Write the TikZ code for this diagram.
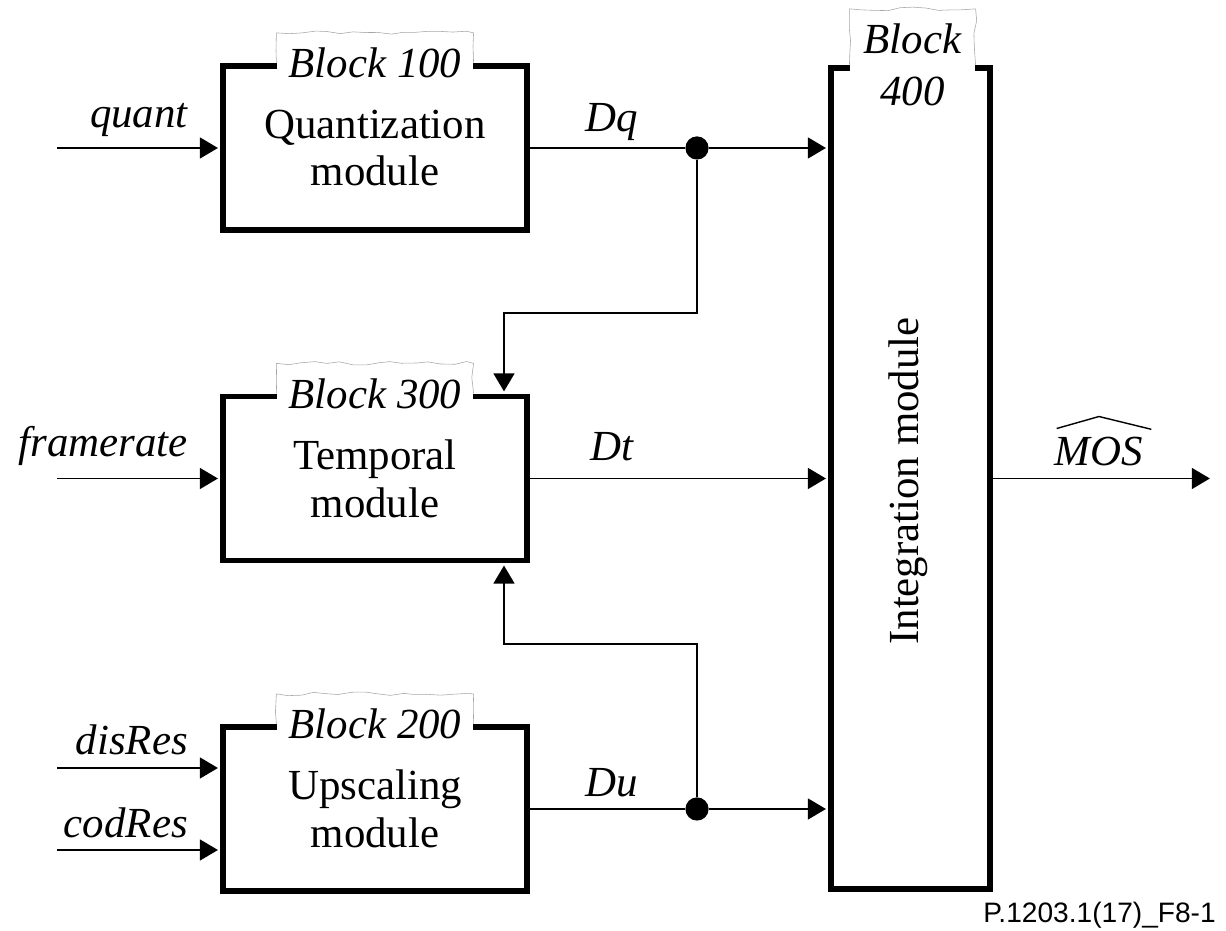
\documentclass[tikz,border=0pt]{standalone}
\usepackage{fontspec}
\setmainfont{Liberation Serif}
\newfontfamily\figsans{Liberation Sans}
\usetikzlibrary{arrows.meta,positioning,decorations.pathmorphing}

% thin grey outline round a block tag
\newcommand{\torntag}[2]{%
  \draw[torn] (#1.west |- #2.north) -- ([yshift=0.3cm]#1.north west)
    -- ([yshift=0.3cm]#1.north east) -- (#1.east |- #2.north);}

\begin{document}
\begin{tikzpicture}[
  module/.style={rectangle, draw, line width=4.2pt, minimum width=7.6cm, minimum height=4.1cm,
                 align=center, inner sep=0pt, font=\fontsize{30.5}{34}\selectfont},
  tag/.style={fill=white, inner xsep=0.3cm, inner ysep=2pt, align=center,
              font=\fontsize{30.5}{37}\selectfont\itshape},
  torn/.style={draw=black!35, line width=0.4pt, decorate,
               decoration={random steps, segment length=9pt, amplitude=1.3pt}},
  lbl/.style={font=\fontsize{30.5}{34}\selectfont\itshape, inner sep=0pt},
  sig/.style={line width=1.4pt, shorten >=1.5pt, -{Triangle[length=0.45cm, width=0.52cm]}},
  wire/.style={line width=1.4pt},
  dot/.style={circle, fill, inner sep=0pt, minimum size=0.58cm},
]
  \pgfmathsetseed{7}
  \useasboundingbox (0,0) rectangle (30.65,23.275);

  % blocks
  \node[module] (quantmod) at (9.375,19.575)  {Quantization\\module};
  \node[module] (tempmod)  at (9.375,11.3125) {Temporal\\module};
  \node[module] (upmod)    at (9.375,3.05)    {Upscaling\\module};
  \node[module, minimum width=3.975cm, minimum height=20.525cm] (integ) at (22.7625,11.3125) {};
  \node[font=\fontsize{30.5}{34}\selectfont, rotate=90] (integtxt) at (22.7,11.25) {Integration module};

  \node[tag] (tag100) at (quantmod.north) {Block 100};
  \node[tag] (tag300) at (tempmod.north)  {Block 300};
  \node[tag] (tag200) at (upmod.north)    {Block 200};
  \node[tag, inner xsep=0.35cm] (tag400) at ([xshift=0.05cm]integ.north) {Block\\400};
  \torntag{tag100}{quantmod}
  \torntag{tag300}{tempmod}
  \torntag{tag200}{upmod}
  \torntag{tag400}{integ}

  % inputs
  \coordinate (quantin) at (1.425,19.575);
  \coordinate (framein) at (1.425,11.3125);
  \coordinate (disin)   at (1.425,4.075);
  \coordinate (codin)   at (1.425,2.025);
  \draw[sig] (quantin) -- (quantmod.west);
  \draw[sig] (framein) -- (tempmod.west);
  \draw[sig] (disin) -- (disin -| upmod.west);
  \draw[sig] (codin) -- (codin -| upmod.west);
  \node[lbl, anchor=base east] (quantlbl) at (4.7,20.075) {quant};
  \node[lbl, anchor=base east] (framelbl) at (4.7,11.85)  {framerate};
  \node[lbl, anchor=base east] (dislbl)   at (4.7,4.4)    {disRes};
  \node[lbl, anchor=base east] (codlbl)   at (4.7,2.325)  {codRes};

  % outputs of the modules
  \node[dot] (dqdot) at (17.425,19.575) {};
  \node[dot] (dudot) at (17.425,3.05) {};
  \draw[wire] (quantmod.east) -- (dqdot);
  \draw[sig] (dqdot) -- (dqdot -| integ.west);
  \draw[sig] (tempmod.east) -- (tempmod.east -| integ.west);
  \draw[wire] (upmod.east) -- (dudot);
  \draw[sig] (dudot) -- (dudot -| integ.west);
  \node[lbl, anchor=base] (dqlbl) at (15.3,19.975) {Dq};
  \node[lbl, anchor=base] (dtlbl) at (15.3,11.75)  {Dt};
  \node[lbl, anchor=base] (dulbl) at (15.3,3.35)   {Du};

  % feedback into the temporal module
  \coordinate (fbtop) at (12.6,15.45);
  \coordinate (fbbot) at (12.6,7.175);
  \draw[sig] (dqdot) |- (fbtop) -- (fbtop |- tempmod.north);
  \draw[sig] (dudot) |- (fbbot) -- (fbbot |- tempmod.south);

  % final score
  \coordinate (mosout) at (30.3,11.3125);
  \draw[sig] (integ.east |- mosout) -- (mosout);
  \node[lbl, anchor=base] (moslbl) at (27.475,11.625) {MOS};
  \draw[line width=1pt] ([xshift=0.05cm,yshift=0.22cm]moslbl.north west)
    -- ([yshift=0.52cm]moslbl.north) -- ([xshift=0.2cm,yshift=0.2cm]moslbl.north east);

  \node[font=\figsans\fontsize{20}{24}\selectfont, anchor=base east, inner sep=0pt] (figno)
    at (30.4,0.2) {P.1203.1(17)\_F8-1};
\end{tikzpicture}
\end{document}
